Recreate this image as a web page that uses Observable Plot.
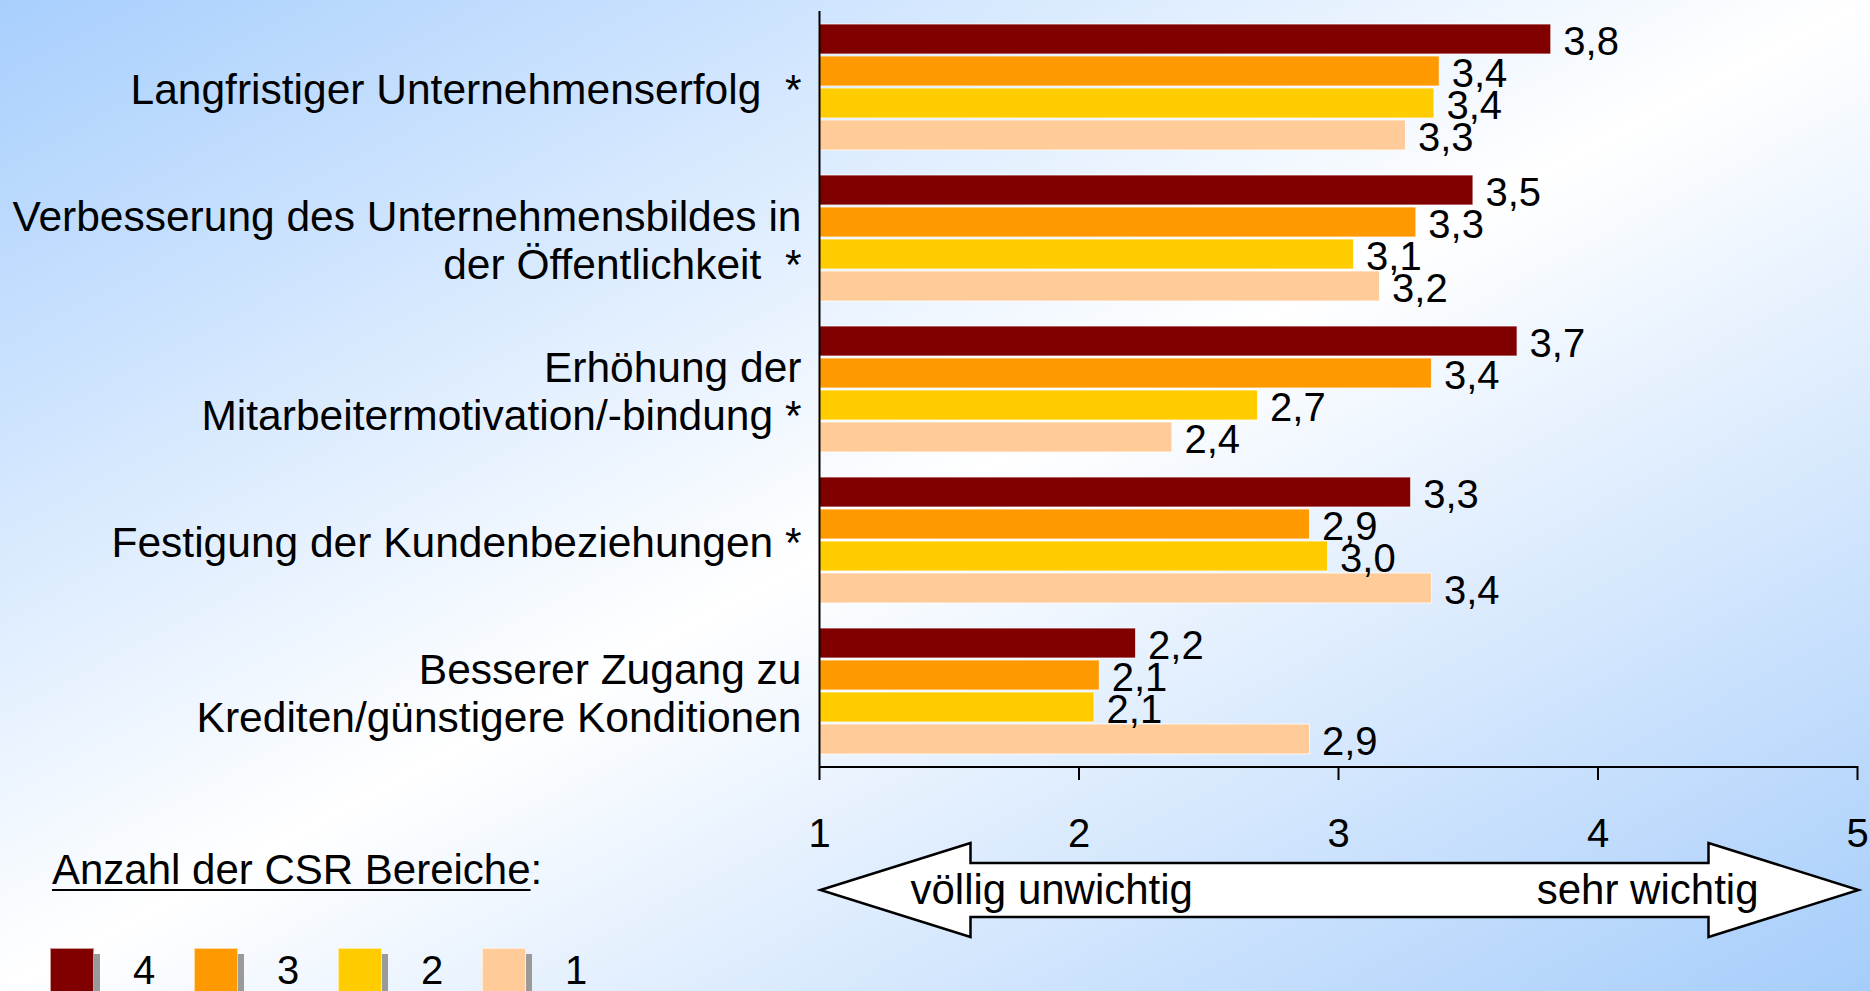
<!DOCTYPE html>
<html>
<head>
<meta charset="utf-8">
<script src="https://cdn.jsdelivr.net/npm/d3@7"></script>
<script src="https://cdn.jsdelivr.net/npm/@observablehq/plot@0.6"></script>
<style>
  html, body { margin: 0; padding: 0; }
  #wrap {
    position: relative; width: 1870px; height: 991px; overflow: hidden;
    background: linear-gradient(to bottom right, #a8cffd 0%, #ffffff 50%, #a6cdfb 100%);
    font-family: "Liberation Sans", Arial, sans-serif; color: #000;
  }
  #chart { position: absolute; left: 0; top: 0; }
  #chart svg { display: block; }
  g[aria-label="x-axis tick"] { stroke-width: 2px; }
  #legend { position: absolute; left: 52px; top: 843px; }
  #legend .title { font-size: 42px; line-height: 54px; white-space: nowrap; }
  #legend .title u { text-decoration-thickness: 2px; text-underline-offset: 5px; }
  #legend .items { position: absolute; left: -2px; top: 105px; display: flex; }
  #legend .item { width: 144px; display: flex; align-items: center; }
  #legend .sw { width: 42px; height: 42px; border: 1px solid rgba(255,255,255,0.6); box-shadow: 6px 6px 0 #9a9a9a; margin-right: 39px; }
  #legend .lab { font-size: 40px; line-height: 44px; }
</style>
</head>
<body>
<div id="wrap">
  <div id="chart"></div>
  <div id="legend">
    <div class="title"><u>Anzahl der CSR Bereiche</u>:</div>
    <div class="items"></div>
  </div>
</div>
<script>
// ---- data ----
const categories = [
  "Langfristiger Unternehmenserfolg\u00a0\u00a0*",
  "Verbesserung des Unternehmensbildes in\nder Öffentlichkeit\u00a0\u00a0*",
  "Erhöhung der\nMitarbeitermotivation/-bindung *",
  "Festigung der Kundenbeziehungen *",
  "Besserer Zugang zu\nKrediten/günstigere Konditionen"
];
const seriesKeys = ["4", "3", "2", "1"];
const seriesColors = ["#800000", "#FF9900", "#FFCC00", "#FFCC99"];
const values4 = [3.82, 3.52, 3.69, 3.28, 2.22];
const values3 = [3.39, 3.30, 3.36, 2.89, 2.08];
const values2 = [3.37, 3.06, 2.69, 2.96, 2.06];
const values1 = [3.26, 3.16, 2.36, 3.36, 2.89];
const xTicks = [1, 2, 3, 4, 5];
const scaleEnds = ["völlig unwichtig", "sehr wichtig"];

const seriesValues = [values4, values3, values2, values1];
const rows = [];
categories.forEach((c, i) => {
  seriesKeys.forEach((s, j) => rows.push({category: c, series: s, value: seriesValues[j][i]}));
});
const fmt = v => d3.format(".1f")(v).replace(".", ",");

const W = 1870, H = 991;
const mL = 819, mR = 13, mT = 10, mB = 224;

const chart = Plot.plot({
  width: W, height: H,
  marginLeft: mL, marginRight: mR, marginTop: mT, marginBottom: mB,
  style: {background: "transparent", fontFamily: "'Liberation Sans', Arial, sans-serif", fontSize: "40px", color: "#000", overflow: "visible"},
  x: {domain: [1, 5], ticks: xTicks, tickSize: 14, tickPadding: 38, tickFormat: d => String(d), label: null},
  y: {domain: seriesKeys, axis: null, paddingInner: 0.07, paddingOuter: 0.37},
  fy: {domain: categories, padding: 0, axis: null},
  color: {domain: seriesKeys, range: seriesColors},
  marks: [
    Plot.barX(rows, {fy: "category", y: "series", x1: 1, x2: "value", fill: "series", stroke: "#ffffff", strokeOpacity: 0.75, strokeWidth: 1}),
    Plot.text(rows, {fy: "category", y: "series", x: "value", text: d => fmt(d.value), textAnchor: "start", dx: 12, dy: 3, fontSize: 40, fill: "#000"}),
    Plot.text(categories, {fy: d => d, text: d => d, frameAnchor: "left", textAnchor: "end", dx: -18, dy: 2, fontSize: 42.5, lineHeight: 1.13, fill: "#000"}),
    Plot.ruleX([1], {stroke: "#000", strokeWidth: 2})
  ]
});
document.getElementById("chart").appendChild(chart);

// axis baseline and the importance arrow, positioned with the plot's x scale
const xs = chart.scale("x");
const svg = d3.select(chart);
const yBottom = H - mB;
svg.append("line")
  .attr("x1", xs.apply(1)).attr("x2", xs.apply(5))
  .attr("y1", yBottom).attr("y2", yBottom)
  .attr("stroke", "#000").attr("stroke-width", 2);

const xl = xs.apply(1) + 1.5, xr = xs.apply(5) + 1.5;
const cy = 890, hh = 47, bh = 27, head = 150;
const pts = [[xl, cy], [xl + head, cy - hh], [xl + head, cy - bh], [xr - head, cy - bh], [xr - head, cy - hh],
             [xr, cy], [xr - head, cy + hh], [xr - head, cy + bh], [xl + head, cy + bh], [xl + head, cy + hh]];
const g = svg.append("g");
g.append("polygon").attr("points", pts.map(p => p.join(",")).join(" "))
  .attr("fill", "#fff").attr("stroke", "#000").attr("stroke-width", 2.5).attr("stroke-linejoin", "miter");
g.append("text").attr("x", xl + 90).attr("y", cy + 14).attr("font-size", 42).attr("text-anchor", "start").attr("fill", "#000").text(scaleEnds[0]);
g.append("text").attr("x", xr - 100).attr("y", cy + 14).attr("font-size", 42).attr("text-anchor", "end").attr("fill", "#000").text(scaleEnds[1]);

// legend
const items = d3.select("#legend .items");
seriesKeys.forEach((s, i) => {
  const it = items.append("div").attr("class", "item");
  it.append("div").attr("class", "sw").style("background", seriesColors[i]);
  it.append("div").attr("class", "lab").text(s);
});
</script>
</body>
</html>
